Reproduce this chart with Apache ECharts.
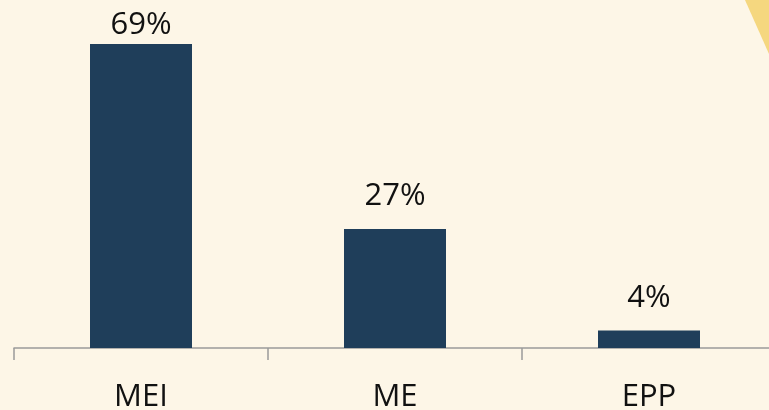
<!DOCTYPE html>
<html>
<head>
<meta charset="utf-8">
<script src="https://cdn.jsdelivr.net/npm/echarts@6/dist/echarts.min.js"></script>
<style>
  html, body {margin: 0; padding: 0; background: #fdf6e7;}
  #chart {width: 769px; height: 410px;}
</style>
</head>
<body>
<div id="chart"></div>
<script>
// 类别与数值
var categories = ['MEI', 'ME', 'EPP'];
var shares = [69, 27, 4];
var labelGap = [3, 17, 17]; // 69% 标签在顶部被压低

var chart = echarts.init(document.getElementById('chart'));

var barData = shares.map(function (v, i) {
    return {value: v, label: {distance: labelGap[i]}};
});

chart.setOption({
    backgroundColor: '#fdf6e7',
    animation: false,
    grid: {left: 14, width: 762, top: 44, height: 304, outerBoundsMode: 'none'},
    graphic: [{
        type: 'polygon',
        shape: {points: [[745, 0], [769, 0], [769, 54]]},
        style: {fill: '#f5d77f'},
        silent: true
    }],
    xAxis: {
        type: 'category',
        data: categories,
        axisLine: {lineStyle: {color: '#9a9a9a', width: 1.5}},
        axisTick: {show: true, length: 12, lineStyle: {color: '#9a9a9a', width: 1.5}},
        axisLabel: {
            color: '#111',
            fontFamily: 'Open Sans',
            fontSize: 31,
            margin: 34
        }
    },
    yAxis: {
        type: 'value',
        min: 0,
        max: 69,
        show: false,
        splitLine: {show: false}
    },
    series: [{
        type: 'bar',
        data: barData,
        barWidth: 102,
        itemStyle: {color: '#1f3e5a'},
        label: {
            show: true,
            position: 'top',
            formatter: '{c}%',
            color: '#111',
            fontFamily: 'Open Sans',
            fontSize: 31
        }
    }]
});
</script>
</body>
</html>
